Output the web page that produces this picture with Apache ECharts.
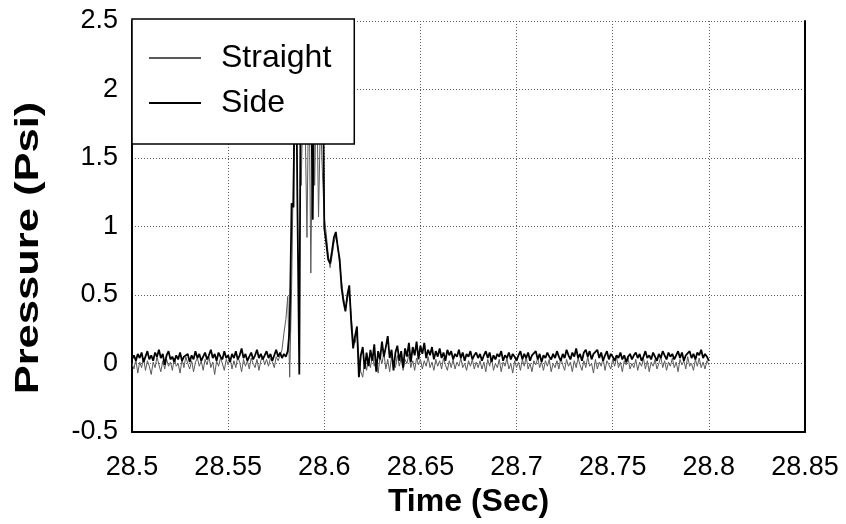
<!DOCTYPE html>
<html>
<head>
<meta charset="utf-8">
<script src="https://cdn.jsdelivr.net/npm/echarts@6/dist/echarts.min.js"></script>
<style>
  html, body { margin: 0; padding: 0; background: #fff; }
  #chart { width: 846px; height: 524px; }
</style>
</head>
<body>
<div id="chart"></div>
<script>
// Pressure traces sampled every millisecond from 28.500 s to 28.800 s
const seriesNames = ['Straight', 'Side'];
const sampleStart = 28.5;
const sampleStep = 0.001;

const straight = [
  0.00, -0.04, 0.03, -0.07, 0.01, -0.03, 0.04, -0.05, 0.02, -0.02,
  -0.08, 0.01, -0.03, 0.05, -0.01, -0.06, 0.02, -0.04, 0.03, -0.02,
  0.01, -0.05, 0.04, -0.02, 0.00, -0.07, 0.03, -0.03, 0.05, 0.00,
  -0.04, 0.02, -0.06, 0.01, 0.04, -0.02, 0.02, -0.05, 0.03, -0.01,
  0.05, -0.03, 0.01, -0.08, 0.02, -0.02, 0.04, 0.00, -0.05, 0.03,
  -0.01, 0.04, -0.04, 0.02, -0.03, 0.05, 0.01, -0.06, 0.03, -0.02,
  0.02, -0.04, 0.04, 0.00, -0.03, 0.03, -0.05, 0.02, 0.05, -0.01,
  0.03, -0.02, 0.04, 0.01, -0.03, 0.05, 0.02, 0.06, 0.10, 0.22,
  0.32, 0.49, -0.10, 0.55, 1.50, 2.20, 1.60, 2.40, 1.30, 2.00,
  1.80, 0.92, 2.20, 0.66, 1.90, 1.30, 2.10, 1.07, 1.80, 1.40,
  1.07, 0.95, 0.80, 0.70, 0.78, 0.88, 0.93, 0.86, 0.72, 0.60,
  0.48, 0.40, 0.47, 0.52, 0.35, 0.18, 0.15, 0.22, 0.05, -0.06,
  -0.10, 0.02, -0.05, 0.04, -0.03, 0.06, -0.02, 0.03, -0.07, 0.05,
  0.00, 0.08, -0.04, 0.03, -0.06, 0.05, 0.01, -0.03, 0.06, -0.02,
  0.04, -0.05, 0.03, 0.00, 0.07, -0.03, 0.02, -0.05, 0.04, -0.01,
  0.03, -0.04, 0.02, -0.02, 0.05, -0.03, 0.01, -0.05, 0.03, -0.02,
  0.02, -0.04, 0.04, -0.01, -0.05, 0.02, -0.03, 0.03, -0.04, 0.01,
  -0.02, 0.04, -0.03, 0.00, -0.05, 0.02, -0.02, 0.03, -0.04, 0.01,
  -0.03,
  0.02, -0.04, 0.01, -0.06, 0.03, -0.02, 0.04, -0.05, 0.00, -0.03,
  0.03, -0.06, 0.01, -0.02, 0.04, -0.04, 0.00, -0.07, 0.02, -0.03,
  0.01, -0.05, 0.03, -0.02, 0.05, -0.04, 0.00, -0.06, 0.02, -0.01,
  0.04, -0.03, 0.01, -0.05, 0.02, -0.02, 0.03, -0.06, 0.00, -0.03,
  0.02, -0.04, 0.04, -0.01, -0.05, 0.03, -0.02, 0.01, -0.06, 0.02,
  -0.03, 0.04, -0.01, -0.05, 0.02, -0.03, 0.05, -0.02, 0.00, -0.07,
  0.03, -0.04, 0.01, -0.02, 0.04, -0.05, 0.02, -0.01, -0.04, 0.03,
  -0.02, 0.05, -0.03, 0.01, -0.06, 0.02, -0.01, 0.04, -0.04, 0.00,
  -0.03, 0.03, -0.05, 0.01, -0.02, 0.04, -0.04, 0.02, -0.06, 0.01,
  -0.02, 0.03, -0.04, 0.00, 0.05, -0.03, 0.02, -0.05, 0.01, -0.02,
  0.04, -0.03, 0.01, -0.06, 0.03, -0.01, 0.02, -0.04, 0.05, -0.02,
  0.00, -0.05, 0.03, -0.02, 0.04, -0.03, 0.01, -0.04, 0.02, -0.01
];

const side = [
  0.03, 0.06, 0.02, 0.07, 0.04, 0.08, 0.01, 0.05, 0.09, 0.03,
  0.06, 0.02, 0.08, 0.05, 0.10, 0.04, 0.07, -0.01, 0.06, 0.09,
  0.03, 0.05, 0.01, 0.06, 0.03, 0.08, 0.02, 0.05, 0.04, 0.07,
  0.01, 0.06, 0.03, 0.09, 0.04, 0.07, 0.02, 0.05, 0.08, 0.03,
  0.06, 0.10, 0.04, 0.07, 0.02, 0.08, 0.05, 0.03, 0.09, 0.04,
  0.06, 0.01, 0.07, 0.04, 0.09, 0.03, 0.06, 0.11, 0.04, 0.07,
  0.02, 0.05, 0.08, 0.03, 0.06, 0.10, 0.04, 0.07, 0.03, 0.06,
  0.09, 0.04, 0.07, 0.02, 0.06, 0.10, 0.05, 0.08, 0.04, 0.07,
  0.05, 0.09, 0.25, 1.17, 1.14, 2.80, 1.20, -0.08, 2.90, 1.90,
  2.70, 1.60, 2.80, 2.20, 1.05, 2.60, 1.70, 2.50, 2.00, 2.70,
  0.99, 0.88, 0.76, 0.73, 0.82, 0.92, 0.96, 0.85, 0.76, 0.55,
  0.45, 0.38, 0.50, 0.57, 0.30, 0.11, 0.20, 0.27, -0.10, 0.06,
  0.12, -0.04, 0.08, -0.02, 0.10, 0.02, 0.14, -0.06, 0.09, 0.03,
  0.16, 0.05, 0.12, 0.20, 0.04, 0.10, -0.05, 0.08, 0.13, 0.02,
  0.09, -0.03, 0.11, 0.05, 0.15, 0.01, 0.12, 0.06, 0.16, 0.03,
  0.13, 0.07, 0.15, 0.04, 0.10, 0.06, 0.12, 0.03, 0.09, 0.05,
  0.11, 0.04, 0.08, 0.02, 0.10, 0.06, 0.09, 0.03, 0.07, 0.05,
  0.10, 0.04, 0.08, 0.02, 0.07, 0.05, 0.09, 0.03, 0.06, 0.08,
  0.04,
  0.07, 0.02, 0.06, 0.09, 0.04, 0.08, 0.01, 0.06, 0.03, 0.07,
  0.05, 0.09, 0.02, 0.06, 0.04, 0.08, 0.03, 0.07, 0.05, 0.02,
  0.06, 0.09, 0.03, 0.07, 0.04, 0.08, 0.02, 0.06, 0.05, 0.09,
  0.03, 0.07, 0.01, 0.06, 0.04, 0.08, 0.05, 0.03, 0.07, 0.04,
  0.09, 0.05, 0.02, 0.07, 0.04, 0.10, 0.06, 0.03, 0.08, 0.05,
  0.11, 0.04, 0.07, 0.02, 0.08, 0.10, 0.05, 0.09, 0.03, 0.07,
  0.06, 0.10, 0.04, 0.08, 0.02, 0.06, 0.09, 0.03, 0.07, 0.05,
  0.02, 0.06, 0.04, 0.08, 0.03, 0.06, 0.01, 0.05, 0.07, 0.03,
  0.06, 0.08, 0.04, 0.07, 0.02, 0.05, 0.09, 0.04, 0.06, 0.03,
  0.08, 0.05, 0.02, 0.07, 0.04, 0.09, 0.06, 0.03, 0.08, 0.05,
  0.07, 0.03, 0.06, 0.09, 0.04, 0.08, 0.02, 0.06, 0.05, 0.09,
  0.04, 0.07, 0.03, 0.08, 0.06, 0.10, 0.04, 0.07, 0.05, 0.02
];

const xTickLabels = ['28.5', '28.55', '28.6', '28.65', '28.7', '28.75', '28.8', '28.85'];
const yTickLabels = ['-0.5', '0', '0.5', '1', '1.5', '2', '2.5'];
const xTitle = 'Time (Sec)';
const yTitle = 'Pressure (Psi)';

const xMin = 28.5, xMax = 28.85, xStep = 0.05;
const yMin = -0.5, yMax = 2.5, yStep = 0.5;

function toPairs(values) {
  return values.map((v, i) => [+(sampleStart + i * sampleStep).toFixed(3), v]);
}

const fontFamily = '"Liberation Sans", Arial, sans-serif';
const gridLine = { show: true, lineStyle: { color: '#5f5f5f', width: 1, type: [1, 2] } };

const chart = echarts.init(document.getElementById('chart'), null, { renderer: 'canvas' });

chart.setOption({
  animation: false,
  backgroundColor: '#fff',
  textStyle: { fontFamily: fontFamily, color: '#000' },
  grid: { left: 132, right: 41, top: 21, bottom: 92, containLabel: false },
  legend: {
    data: seriesNames,
    orient: 'vertical',
    left: 132,
    top: 19,
    padding: [23, 23, 25, 16],
    itemWidth: 52,
    itemHeight: 14,
    itemGap: 13,
    backgroundColor: '#fff',
    borderColor: '#000',
    borderWidth: 1.5,
    borderRadius: 0,
    z: 10,
    // line-only keys: the point marker is made invisible
    itemStyle: { color: 'rgba(0,0,0,0)', borderColor: 'rgba(0,0,0,0)', borderWidth: 0 },
    textStyle: {
      fontSize: 32,
      lineHeight: 32,
      color: '#000',
      fontFamily: fontFamily,
      padding: [0, 0, 0, 15]
    }
  },
  xAxis: {
    type: 'value',
    min: xMin,
    max: xMax,
    interval: xStep,
    name: xTitle,
    nameLocation: 'middle',
    nameGap: 50,
    nameTextStyle: { fontSize: 32, fontWeight: 'bold', color: '#000', fontFamily: fontFamily },
    axisLine: { show: true, onZero: false, lineStyle: { color: '#000', width: 2 } },
    axisTick: { show: false },
    axisLabel: {
      fontSize: 27,
      color: '#000',
      margin: 22,
      formatter: (v) => xTickLabels[Math.round((v - xMin) / xStep)]
    },
    splitLine: gridLine
  },
  yAxis: [
    {
      type: 'value',
      min: yMin,
      max: yMax,
      interval: yStep,
      axisLine: { show: true, onZero: false, lineStyle: { color: '#000', width: 2 } },
      axisTick: { show: false },
      axisLabel: {
        fontSize: 27,
        color: '#000',
        margin: 14,
        formatter: (v) => yTickLabels[Math.round((v - yMin) / yStep)]
      },
      splitLine: gridLine
    },
    {
      type: 'value',
      position: 'right',
      min: yMin,
      max: yMax,
      interval: yStep,
      axisLine: { show: true, lineStyle: { color: '#000', width: 2 } },
      axisTick: { show: false },
      axisLabel: { show: false },
      splitLine: { show: false }
    }
  ],
  graphic: [
    {
      type: 'text',
      x: 29,
      y: 248,
      rotation: Math.PI / 2,
      scaleX: 1.28,
      style: {
        text: yTitle,
        fontSize: 34,
        fontWeight: 'bold',
        fontFamily: fontFamily,
        fill: '#000',
        align: 'center',
        verticalAlign: 'middle'
      }
    }
  ],
  series: [
    {
      name: seriesNames[0],
      type: 'line',
      data: toPairs(straight),
      symbol: 'none',
      clip: true,
      lineStyle: { color: '#5a5a5a', width: 1 },
      itemStyle: { color: '#5a5a5a' },
      z: 2
    },
    {
      name: seriesNames[1],
      type: 'line',
      data: toPairs(side),
      symbol: 'none',
      clip: true,
      lineStyle: { color: '#000', width: 1.8 },
      itemStyle: { color: '#000' },
      z: 3
    }
  ]
});
</script>
</body>
</html>
